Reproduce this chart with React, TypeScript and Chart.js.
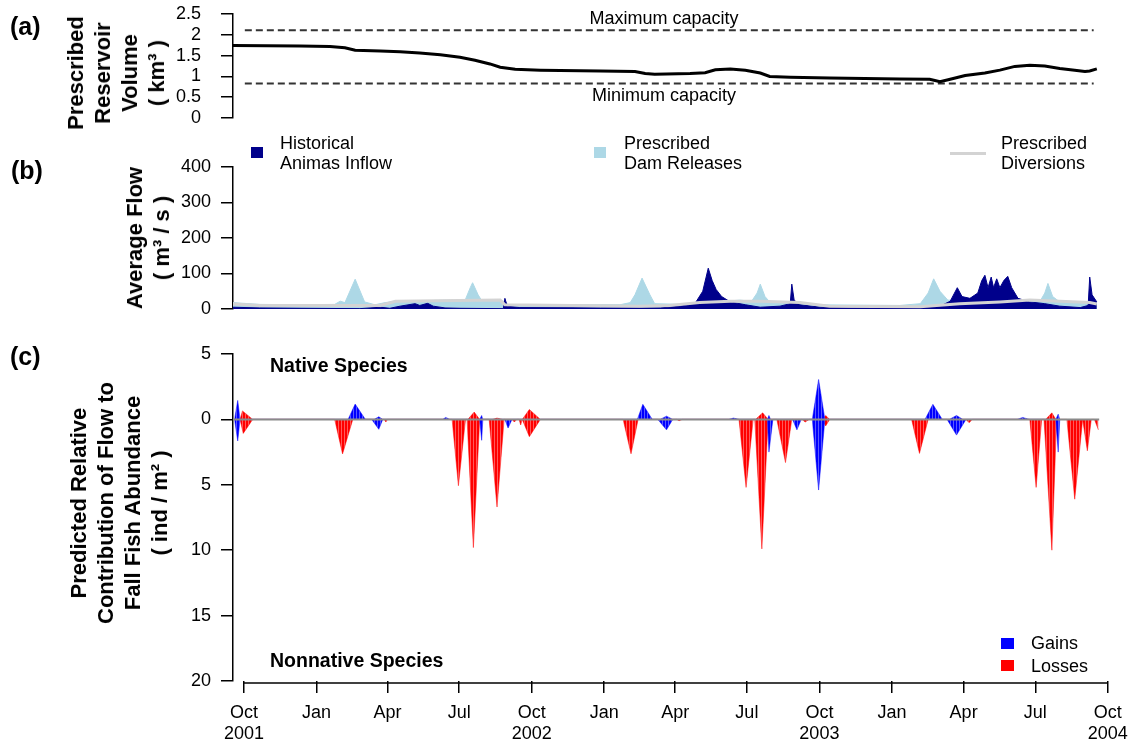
import React, { useEffect, useRef } from 'react';
import { Chart, registerables } from 'chart.js';
Chart.register(...registerables);

const FONT = '"Liberation Sans", Arial, Helvetica, sans-serif';
const W = 1131;
const H = 748;
const X_MIN = -14;
const X_MAX = 1100;

// x axis: days since 1 Oct 2001
const tickDays = [0, 92, 182, 273, 365, 457, 547, 638, 730, 822, 913, 1004, 1096];
const tickMonths = ['Oct', 'Jan', 'Apr', 'Jul', 'Oct', 'Jan', 'Apr', 'Jul', 'Oct', 'Jan', 'Apr', 'Jul', 'Oct'];
const tickYears = ['2001', '', '', '', '2002', '', '', '', '2003', '', '', '', '2004'];

// (a) reservoir volume (km3)
const volDays = [-14, 71, 109, 128, 141, 173, 198, 223, 249, 274, 293, 312, 325, 344, 376, 452, 496, 509, 521, 566, 585, 598, 617, 636, 655, 667, 693, 743, 832, 870, 883, 896, 915, 940, 959, 978, 997, 1016, 1035, 1054, 1067, 1073, 1082];
const volVals = [1.74, 1.73, 1.72, 1.69, 1.63, 1.61, 1.59, 1.56, 1.52, 1.46, 1.39, 1.3, 1.22, 1.17, 1.15, 1.13, 1.12, 1.07, 1.05, 1.07, 1.09, 1.16, 1.18, 1.15, 1.08, 1.0, 0.98, 0.96, 0.94, 0.93, 0.87, 0.93, 1.02, 1.08, 1.15, 1.24, 1.27, 1.25, 1.19, 1.15, 1.12, 1.13, 1.18];
const capacityDays = [1, 1078];
const maxCapacity = 2.11;
const minCapacity = 0.83;

// (b) flows (m3/s)
const releaseDays = [-14, 20, 71, 115, 122, 128, 141, 153, 166, 179, 192, 261, 280, 287, 290, 297, 302, 331, 335, 401, 477, 490, 496, 505, 515, 521, 578, 585, 629, 644, 651, 655, 661, 667, 705, 718, 832, 858, 868, 875, 883, 893, 959, 1010, 1016, 1020, 1026, 1035, 1073, 1082];
const releaseVals = [18, 13, 12, 13, 22, 18, 84, 20, 12, 18, 22, 25, 22, 60, 74, 40, 22, 22, 12, 12, 12, 18, 40, 87, 40, 15, 12, 18, 25, 22, 45, 70, 35, 20, 20, 12, 10, 15, 45, 85, 50, 25, 22, 22, 45, 72, 35, 20, 20, 20];
const inflowDays = [-14, 20, 71, 147, 173, 185, 198, 217, 223, 233, 240, 255, 274, 329, 331, 334, 350, 452, 528, 553, 572, 582, 589, 594, 599, 606, 617, 636, 655, 680, 693, 695, 698, 705, 731, 769, 858, 883, 896, 905, 911, 921, 931, 936, 940, 944, 948, 951, 955, 959, 964, 969, 974, 982, 997, 1016, 1035, 1061, 1071, 1073, 1076, 1082];
const inflowVals = [5, 3, 2, 1, 5, 2, 8, 15, 10, 16, 8, 3, 2, 1, 30, 8, 4, 3, 3, 8, 15, 50, 115, 80, 55, 35, 20, 12, 5, 8, 15, 70, 25, 12, 5, 3, 3, 8, 22, 60, 35, 30, 45, 80, 95, 60, 90, 60, 85, 60, 80, 92, 60, 30, 20, 15, 8, 4, 10, 90, 40, 20];
const diversionDays = [-14, 20, 173, 192, 325, 331, 502, 540, 578, 617, 655, 705, 743, 858, 908, 959, 997, 1035, 1073, 1082];
const diversionVals = [14, 10, 10, 22, 25, 12, 8, 10, 18, 22, 22, 18, 8, 6, 15, 20, 25, 22, 18, 14];

// (c) contributions (ind/m2): [day, value] spikes; positive = native, negative = nonnative
const nativeGains: number[][] = [
  [-12, 0], [-8, 1.45], [-5, 0], [132, 0], [141, 1.17], [154, 0], [165, 0], [171, 0.2], [176, 0],
  [252, 0], [256, 0.15], [261, 0], [299, 0], [301.5, 0.3], [303, 0], [499, 0], [506, 1.15], [518, 0],
  [528, 0], [536, 0.25], [544, 0], [615, 0], [621, 0.1], [628, 0], [664, 0], [666, 0.3], [668, 0],
  [721, 0], [729, 3.05], [737, 0], [864, 0], [874, 1.15], [886, 0], [895, 0], [904, 0.3], [912, 0],
  [981, 0], [988, 0.15], [996, 0], [1030, 0], [1033, 0.4], [1035, 0],
];
const nativeLosses: number[][] = [
  [-5, 0], [-2, 0.65], [11, 0], [284, 0], [292, 0.56], [299, 0], [315, 0], [321, 0.1], [328, 0],
  [353, 0], [362, 0.76], [376, 0], [649, 0], [658, 0.5], [665, 0], [734, 0], [738, 0.3], [743, 0],
  [1017, 0], [1025, 0.5], [1030, 0],
];
const nonnativeGains: number[][] = [
  [-12, 0], [-8, -1.65], [-5, 0], [162, 0], [171, -0.76], [176, 0], [299, 0], [301.5, -1.6], [303, 0],
  [331, 0], [335, -0.66], [340, 0], [525, 0], [536, -0.8], [544, 0], [664, 0], [666, -2.5], [671, 0],
  [696, 0], [701.5, -0.8], [707, 0], [721, 0], [729, -5.4], [737, 0], [892, 0], [904, -1.2], [916, 0],
  [1030, 0], [1033, -2.5], [1035, 0],
];
const nonnativeLosses: number[][] = [
  [-5, 0], [-1, -1.07], [11, 0], [115, 0], [125, -2.64], [138, 0], [178, 0], [180, -0.2], [182, 0],
  [264, 0], [272, -5.07], [281, 0], [283, 0], [291, -9.8], [299, 0], [311, 0], [321, -6.7], [330, 0],
  [340, 0], [343, -0.2], [346, 0], [349, 0], [351, -0.43], [353, 0], [353, 0], [362, -1.32], [376, 0],
  [481, 0], [491, -2.63], [500, 0], [549, 0], [552, -0.1], [556, 0], [628, 0], [637, -5.2], [646, 0],
  [648, 0], [657, -9.9], [665, 0], [676, 0], [687, -3.3], [695, 0], [708, 0], [712, -0.2], [717, 0],
  [734, 0], [738, -0.5], [743, 0], [847, 0], [857, -2.6], [868, 0], [916, 0], [920, -0.25], [924, 0],
  [997, 0], [1005, -5.2], [1012, 0], [1015, 0], [1025, -10], [1031, 0], [1044, 0], [1054, -6.1], [1064, 0],
  [1064, 0], [1070, -2.4], [1075, 0], [1079, 0], [1084, -0.8],
];
const zeroLineDays = [-14, 1085];

const pts = (xs: number[], ys: number[]) => xs.map((x, i) => ({ x, y: ys[i] }));
const pairs = (a: number[][]) => a.map(([x, y]) => ({ x, y }));

// vertical hatching like R's type="h" bars
function stripes(main: string, light: string): CanvasPattern | string {
  const c = document.createElement('canvas');
  c.width = 3;
  c.height = 1;
  const g = c.getContext('2d');
  if (!g) return main;
  g.fillStyle = main;
  g.fillRect(0, 0, 2, 1);
  g.fillStyle = light;
  g.fillRect(2, 0, 1, 1);
  return g.createPattern(c, 'repeat') || main;
}

function yAxis(min: number, max: number, step: number, pad: number, cb: (v: number) => string) {
  return {
    min,
    max,
    ticks: {
      stepSize: step,
      autoSkip: false,
      padding: pad,
      color: '#000',
      font: { family: FONT, size: 18 },
      callback: cb,
    },
    grid: { display: true, drawOnChartArea: false, drawTicks: true, tickLength: 12, color: '#000', lineWidth: 1.5 },
    border: { display: true, color: '#000', width: 1.5 },
    afterFit: (s: any) => {
      s.width = 233;
      s.paddingTop = 0;
      s.paddingBottom = 0;
    },
  };
}

const hiddenX = { type: 'linear', display: false, min: X_MIN, max: X_MAX };

const baseOpts = (top: number, bottom: number) => ({
  responsive: false,
  animation: false,
  events: [],
  layout: { padding: { left: 0, right: 20, top, bottom } },
  plugins: { legend: { display: false }, tooltip: { enabled: false } },
  elements: { point: { radius: 0 }, line: { tension: 0 } },
});

const xAxisLine = {
  id: 'xAxisLine',
  afterDraw(chart: any) {
    const s = chart.scales.x;
    const ctx = chart.ctx;
    const y = chart.chartArea.bottom + 2;
    ctx.save();
    ctx.strokeStyle = '#000';
    ctx.lineWidth = 1.5;
    ctx.beginPath();
    ctx.moveTo(s.getPixelForValue(tickDays[0]), y);
    ctx.lineTo(s.getPixelForValue(tickDays[tickDays.length - 1]), y);
    ctx.stroke();
    ctx.restore();
  },
};

const T: React.CSSProperties = { position: 'absolute', whiteSpace: 'nowrap', color: '#000' };

function VTitle({ cx, cy, lines }: { cx: number; cy: number; lines: string[] }) {
  return (
    <div
      style={{
        ...T,
        left: cx,
        top: cy,
        transform: 'translate(-50%, -50%) rotate(-90deg)',
        textAlign: 'center',
        fontWeight: 'bold',
        fontSize: 22,
        lineHeight: '27px',
      }}
    >
      {lines.map((l, i) => (
        <div key={i}>{l}</div>
      ))}
    </div>
  );
}

export default function App() {
  const ra = useRef<HTMLCanvasElement>(null);
  const rb = useRef<HTMLCanvasElement>(null);
  const rc = useRef<HTMLCanvasElement>(null);

  useEffect(() => {
    const ca = new Chart(ra.current!, {
      type: 'line',
      data: {
        datasets: [
          { data: pts(volDays, volVals), borderColor: '#000', borderWidth: 3, order: 0 },
          { data: pts(capacityDays, [maxCapacity, maxCapacity]), borderColor: '#333', borderWidth: 2, borderDash: [7, 4], order: 1 },
          { data: pts(capacityDays, [minCapacity, minCapacity]), borderColor: '#333', borderWidth: 2, borderDash: [7, 4], order: 1 },
        ],
      },
      options: {
        ...baseOpts(14, H - 118),
        scales: { x: hiddenX, y: yAxis(0, 2.5, 0.5, 20, (v: number) => String(v)) },
      } as any,
    });

    const cb = new Chart(rb.current!, {
      type: 'line',
      data: {
        datasets: [
          { data: pts(releaseDays, releaseVals), borderColor: '#ADD8E6', backgroundColor: '#ADD8E6', borderWidth: 1, fill: 'origin', order: 3 },
          { data: pts(inflowDays, inflowVals), borderColor: '#00008B', backgroundColor: '#00008B', borderWidth: 1, fill: 'origin', order: 2 },
          { data: pts(diversionDays, diversionVals), borderColor: '#D3D3D3', borderWidth: 3, fill: false, order: 1 },
        ],
      },
      options: {
        ...baseOpts(167, H - 309),
        scales: { x: hiddenX, y: yAxis(0, 400, 100, 10, (v: number) => String(v)) },
      } as any,
    });

    const blueFill = stripes('#0000FF', '#5a5aff');
    const redFill = stripes('#FF0000', '#ff5a5a');
    const cc = new Chart(rc.current!, {
      type: 'line',
      data: {
        datasets: [
          { data: pairs(nativeGains), borderColor: '#0000FF', backgroundColor: blueFill, borderWidth: 0.5, fill: 'origin', order: 2 },
          { data: pairs(nativeLosses), borderColor: '#FF0000', backgroundColor: redFill, borderWidth: 0.5, fill: 'origin', order: 2 },
          { data: pairs(nonnativeGains), borderColor: '#0000FF', backgroundColor: blueFill, borderWidth: 0.5, fill: 'origin', order: 2 },
          { data: pairs(nonnativeLosses), borderColor: '#FF0000', backgroundColor: redFill, borderWidth: 0.5, fill: 'origin', order: 2 },
          { data: pts(zeroLineDays, [0, 0]), borderColor: '#8a8a8a', borderWidth: 2, fill: false, order: 1 },
        ],
      },
      options: {
        ...baseOpts(354, 7),
        scales: {
          x: {
            type: 'linear',
            min: X_MIN,
            max: X_MAX,
            afterBuildTicks: (s: any) => {
              s.ticks = tickDays.map((v) => ({ value: v }));
            },
            ticks: {
              autoSkip: false,
              maxRotation: 0,
              minRotation: 0,
              padding: 9,
              color: '#000',
              font: { family: FONT, size: 18, lineHeight: 1.2 },
              callback: (_v: number, i: number) => (tickYears[i] ? [tickMonths[i], tickYears[i]] : tickMonths[i]),
            },
            grid: { display: true, drawOnChartArea: false, drawTicks: true, tickLength: 12, color: '#000', lineWidth: 1.5 },
            border: { display: false },
            afterFit: (s: any) => {
              s.height = 60;
              s.paddingLeft = 0;
              s.paddingRight = 0;
            },
          },
          y: yAxis(-20, 5, 5, 10, (v: number) => String(Math.abs(v))),
        },
      } as any,
      plugins: [xAxisLine],
    });

    return () => {
      ca.destroy();
      cb.destroy();
      cc.destroy();
    };
  }, []);

  const cv: React.CSSProperties = { position: 'absolute', left: 0, top: 0, display: 'block' };
  const legendText: React.CSSProperties = { ...T, fontSize: 18, lineHeight: '20px' };

  return (
    <div style={{ position: 'absolute', left: 0, top: 0, width: W, height: H, background: '#fff', fontFamily: FONT, overflow: 'hidden' }}>
      <canvas ref={ra} width={W} height={H} style={cv} />
      <canvas ref={rb} width={W} height={H} style={cv} />
      <canvas ref={rc} width={W} height={H} style={cv} />

      {/* panel labels */}
      <div style={{ ...T, left: 10, top: 11, fontSize: 25, fontWeight: 'bold', lineHeight: '30px' }}>(a)</div>
      <div style={{ ...T, left: 11, top: 155, fontSize: 25, fontWeight: 'bold', lineHeight: '30px' }}>(b)</div>
      <div style={{ ...T, left: 10, top: 341, fontSize: 25, fontWeight: 'bold', lineHeight: '30px' }}>(c)</div>

      {/* axis titles */}
      <VTitle cx={116} cy={73} lines={['Prescribed', 'Reservoir', 'Volume', '( km\u00B3 )']} />
      <VTitle cx={148} cy={238} lines={['Average Flow', '( m\u00B3 / s )']} />
      <VTitle cx={119} cy={503} lines={['Predicted Relative', 'Contribution of Flow to', 'Fall Fish Abundance', '( ind / m\u00B2 )']} />

      {/* panel (a) annotations */}
      <div style={{ ...T, left: 664, top: 18, transform: 'translate(-50%, -50%)', fontSize: 18 }}>Maximum capacity</div>
      <div style={{ ...T, left: 664, top: 95, transform: 'translate(-50%, -50%)', fontSize: 18 }}>Minimum capacity</div>

      {/* panel (b) legend */}
      <div style={{ position: 'absolute', left: 251, top: 147, width: 12, height: 11, background: '#00008B' }} />
      <div style={{ ...legendText, left: 280, top: 133 }}>Historical<br />Animas Inflow</div>
      <div style={{ position: 'absolute', left: 594, top: 147, width: 12, height: 11, background: '#ADD8E6' }} />
      <div style={{ ...legendText, left: 624, top: 133 }}>Prescribed<br />Dam Releases</div>
      <div style={{ position: 'absolute', left: 950, top: 152, width: 36, height: 3, background: '#D3D3D3' }} />
      <div style={{ ...legendText, left: 1001, top: 133 }}>Prescribed<br />Diversions</div>

      {/* panel (c) annotations */}
      <div style={{ ...T, left: 270, top: 365, transform: 'translateY(-50%)', fontSize: 19.5, fontWeight: 'bold' }}>Native Species</div>
      <div style={{ ...T, left: 270, top: 660, transform: 'translateY(-50%)', fontSize: 19.5, fontWeight: 'bold' }}>Nonnative Species</div>
      <div style={{ position: 'absolute', left: 1001, top: 638, width: 13, height: 11, background: '#0000FF' }} />
      <div style={{ ...T, left: 1031, top: 643, transform: 'translateY(-50%)', fontSize: 18 }}>Gains</div>
      <div style={{ position: 'absolute', left: 1001, top: 660, width: 13, height: 11, background: '#FF0000' }} />
      <div style={{ ...T, left: 1031, top: 666, transform: 'translateY(-50%)', fontSize: 18 }}>Losses</div>
    </div>
  );
}
